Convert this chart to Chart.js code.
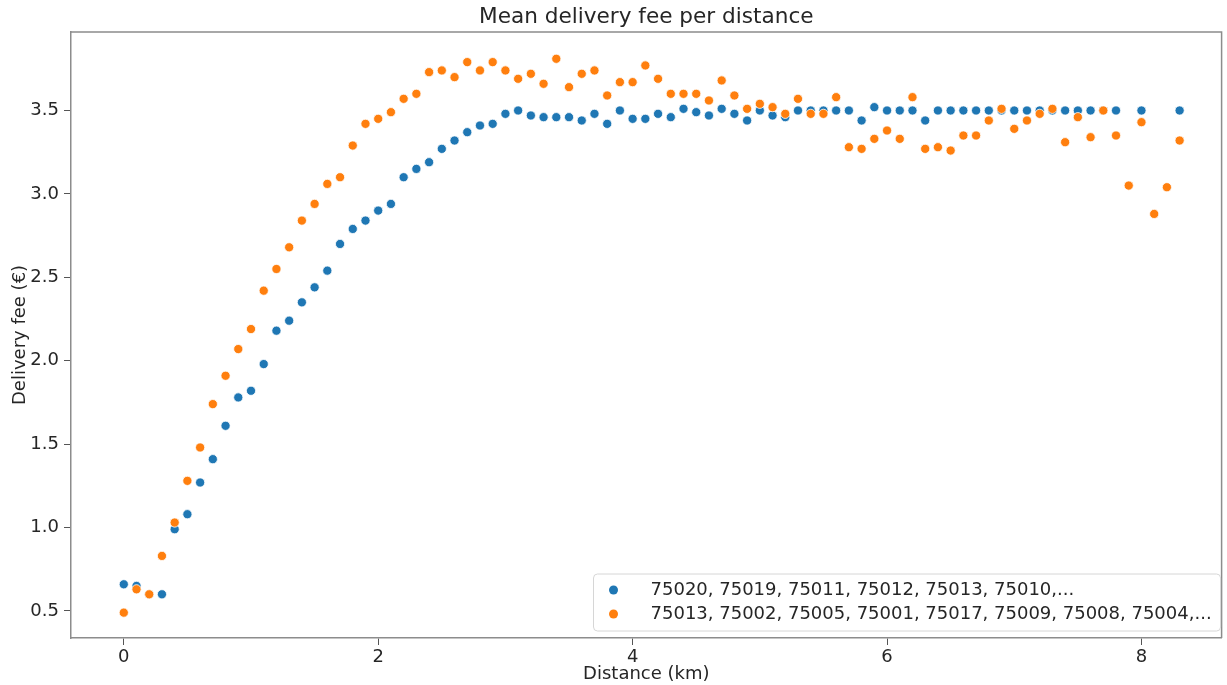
<!DOCTYPE html>
<html>
<head>
<meta charset="utf-8">
<script src="https://cdn.jsdelivr.net/npm/chart.js@4"></script>
<style>
  body { margin: 0; background: #fff; }
  #wrap { width: 1227px; height: 685px; }
</style>
</head>
<body>
<div id="wrap"><canvas id="feeChart" width="1227" height="685"></canvas></div>
<script>
// distances (km) and mean fee (€)
const blueX = [0.0, 0.1, 0.2, 0.3, 0.4, 0.5, 0.6, 0.7, 0.8, 0.9,
  1.0, 1.1, 1.2, 1.3, 1.4, 1.5, 1.6, 1.7, 1.8, 1.9,
  2.0, 2.1, 2.2, 2.3, 2.4, 2.5, 2.6, 2.7, 2.8, 2.9,
  3.0, 3.1, 3.2, 3.3, 3.4, 3.5, 3.6, 3.7, 3.8, 3.9,
  4.0, 4.1, 4.2, 4.3, 4.4, 4.5, 4.6, 4.7, 4.8, 4.9,
  5.0, 5.1, 5.2, 5.3, 5.4, 5.5, 5.6, 5.7, 5.8, 5.9,
  6.0, 6.1, 6.2, 6.3, 6.4, 6.5, 6.6, 6.7, 6.8, 6.9,
  7.0, 7.1, 7.2, 7.3, 7.4, 7.5, 7.6, 7.7, 7.8, 8.0, 8.3];
const blueY = [0.66, 0.65, 0.60, 0.60, 0.99, 1.08, 1.27, 1.41, 1.61, 1.78,
  1.82, 1.98, 2.18, 2.24, 2.35, 2.44, 2.54, 2.70, 2.79, 2.84,
  2.90, 2.94, 3.10, 3.15, 3.19, 3.27, 3.32, 3.37, 3.41, 3.42,
  3.48, 3.50, 3.47, 3.46, 3.46, 3.46, 3.44, 3.48, 3.42, 3.50,
  3.45, 3.45, 3.48, 3.46, 3.51, 3.49, 3.47, 3.51, 3.48, 3.44,
  3.50, 3.47, 3.46, 3.50, 3.50, 3.50, 3.50, 3.50, 3.44, 3.52,
  3.50, 3.50, 3.50, 3.44, 3.50, 3.50, 3.50, 3.50, 3.50, 3.50,
  3.50, 3.50, 3.50, 3.50, 3.50, 3.50, 3.50, 3.50, 3.50, 3.50, 3.50];

const orangeX = [0.0, 0.1, 0.2, 0.3, 0.4, 0.5, 0.6, 0.7, 0.8, 0.9,
  1.0, 1.1, 1.2, 1.3, 1.4, 1.5, 1.6, 1.7, 1.8, 1.9,
  2.0, 2.1, 2.2, 2.3, 2.4, 2.5, 2.6, 2.7, 2.8, 2.9,
  3.0, 3.1, 3.2, 3.3, 3.4, 3.5, 3.6, 3.7, 3.8, 3.9,
  4.0, 4.1, 4.2, 4.3, 4.4, 4.5, 4.6, 4.7, 4.8, 4.9,
  5.0, 5.1, 5.2, 5.3, 5.4, 5.5, 5.6, 5.7, 5.8, 5.9,
  6.0, 6.1, 6.2, 6.3, 6.4, 6.5, 6.6, 6.7, 6.8, 6.9,
  7.0, 7.1, 7.2, 7.3, 7.4, 7.5, 7.6, 7.7, 7.8, 7.9,
  8.0, 8.1, 8.2, 8.3];
const orangeY = [0.49, 0.63, 0.60, 0.83, 1.03, 1.28, 1.48, 1.74, 1.91, 2.07,
  2.19, 2.42, 2.55, 2.68, 2.84, 2.94, 3.06, 3.10, 3.29, 3.42,
  3.45, 3.49, 3.57, 3.60, 3.73, 3.74, 3.70, 3.79, 3.74, 3.79,
  3.74, 3.69, 3.72, 3.66, 3.81, 3.64, 3.72, 3.74, 3.59, 3.67,
  3.67, 3.77, 3.69, 3.60, 3.60, 3.60, 3.56, 3.68, 3.59, 3.51,
  3.54, 3.52, 3.48, 3.57, 3.48, 3.48, 3.58, 3.28, 3.27, 3.33,
  3.38, 3.33, 3.58, 3.27, 3.28, 3.26, 3.35, 3.35, 3.44, 3.51,
  3.39, 3.44, 3.48, 3.51, 3.31, 3.46, 3.34, 3.50, 3.35, 3.05,
  3.43, 2.88, 3.04, 3.32];

const seriesLabels = [
  '75020, 75019, 75011, 75012, 75013, 75010,...',
  '75013, 75002, 75005, 75001, 75017, 75009, 75008, 75004,...'
];
const xTicks = [0, 2, 4, 6, 8];
const yTicks = [0.5, 1.0, 1.5, 2.0, 2.5, 3.0, 3.5];

const FONT = 'DejaVu Sans';
const TXT = '#262626';

function toPoints(xs, ys) {
  return xs.map((x, i) => ({ x: x, y: ys[i] }));
}

// top + right spines (chart.js only draws the axis borders)
const framePlugin = {
  id: 'frame',
  afterDatasetsDraw(chart) {
    const a = chart.chartArea;
    const ctx = chart.ctx;
    ctx.save();
    ctx.strokeStyle = '#8c8c8c';
    ctx.lineWidth = 1.5;
    ctx.beginPath();
    ctx.moveTo(a.left, a.top);
    ctx.lineTo(a.right, a.top);
    ctx.lineTo(a.right, a.bottom);
    ctx.stroke();
    ctx.restore();
  }
};

// legend sitting inside the plot, lower right
const innerLegend = {
  id: 'innerLegend',
  afterDraw(chart) {
    const a = chart.chartArea;
    const ctx = chart.ctx;
    ctx.save();
    ctx.font = '18px "' + FONT + '"';
    let maxW = 0;
    chart.data.datasets.forEach(ds => { maxW = Math.max(maxW, ctx.measureText(ds.label).width); });
    const w = maxW + 66;
    const h = 57;
    const right = a.right - 1;
    const bottom = a.bottom - 7;
    const left = right - w;
    const top = bottom - h;
    ctx.beginPath();
    ctx.roundRect(left, top, w, h, 4);
    ctx.fillStyle = 'rgba(255,255,255,0.85)';
    ctx.fill();
    ctx.strokeStyle = '#d6d6d6';
    ctx.lineWidth = 1;
    ctx.stroke();
    chart.data.datasets.forEach((ds, i) => {
      const cy = top + 16 + i * 24;
      ctx.beginPath();
      ctx.arc(left + 20, cy, 4.5, 0, Math.PI * 2);
      ctx.fillStyle = ds.backgroundColor;
      ctx.fill();
      ctx.fillStyle = TXT;
      ctx.textBaseline = 'middle';
      ctx.textAlign = 'left';
      ctx.fillText(ds.label, left + 57, cy);
    });
    ctx.restore();
  }
};

const ctx = document.getElementById('feeChart').getContext('2d');
new Chart(ctx, {
  type: 'scatter',
  data: {
    datasets: [{
      label: seriesLabels[0],
      data: toPoints(blueX, blueY),
      backgroundColor: '#1f77b4',
      borderColor: '#ffffff',
      borderWidth: 0.8,
      pointRadius: 4.6,
      order: 1
    }, {
      label: seriesLabels[1],
      data: toPoints(orangeX, orangeY),
      backgroundColor: '#ff7f0e',
      borderColor: '#ffffff',
      borderWidth: 0.8,
      pointRadius: 4.6,
      order: 0
    }]
  },
  options: {
    responsive: false,
    animation: false,
    layout: { padding: { left: 0, right: 2, top: 0, bottom: 0 } },
    plugins: {
      legend: { display: false },
      tooltip: { enabled: false },
      title: {
        display: true,
        fullSize: false,
        text: 'Mean delivery fee per distance',
        color: TXT,
        font: { family: FONT, size: 21.6, weight: 'normal' },
        padding: { top: 4, bottom: 2 }
      }
    },
    scales: {
      x: {
        type: 'linear',
        min: -0.415,
        max: 8.63,
        afterBuildTicks: s => { s.ticks = xTicks.map(v => ({ value: v })); },
        afterFit: s => { s.height = 47; },
        ticks: { color: TXT, font: { family: FONT, size: 18 }, padding: 2, maxRotation: 0 },
        grid: { drawOnChartArea: false, tickLength: 7, color: '#555', lineWidth: 1 },
        border: { color: '#8c8c8c', width: 1.5 },
        title: {
          display: true,
          text: 'Distance (km)',
          color: TXT,
          font: { family: FONT, size: 18 },
          padding: { top: 0, bottom: 0 }
        }
      },
      y: {
        type: 'linear',
        min: 0.338,
        max: 3.971,
        afterBuildTicks: s => { s.ticks = yTicks.map(v => ({ value: v })); },
        afterFit: s => { s.width = 71; },
        ticks: {
          color: TXT,
          font: { family: FONT, size: 18 },
          padding: 5,
          callback: v => v.toFixed(1)
        },
        grid: { drawOnChartArea: false, tickLength: 7, color: '#555', lineWidth: 1 },
        border: { color: '#8c8c8c', width: 1.5 },
        title: {
          display: true,
          text: 'Delivery fee (€)',
          color: TXT,
          font: { family: FONT, size: 18 },
          padding: { top: 10, bottom: 0 }
        }
      }
    }
  },
  plugins: [framePlugin, innerLegend]
});
</script>
</body>
</html>
